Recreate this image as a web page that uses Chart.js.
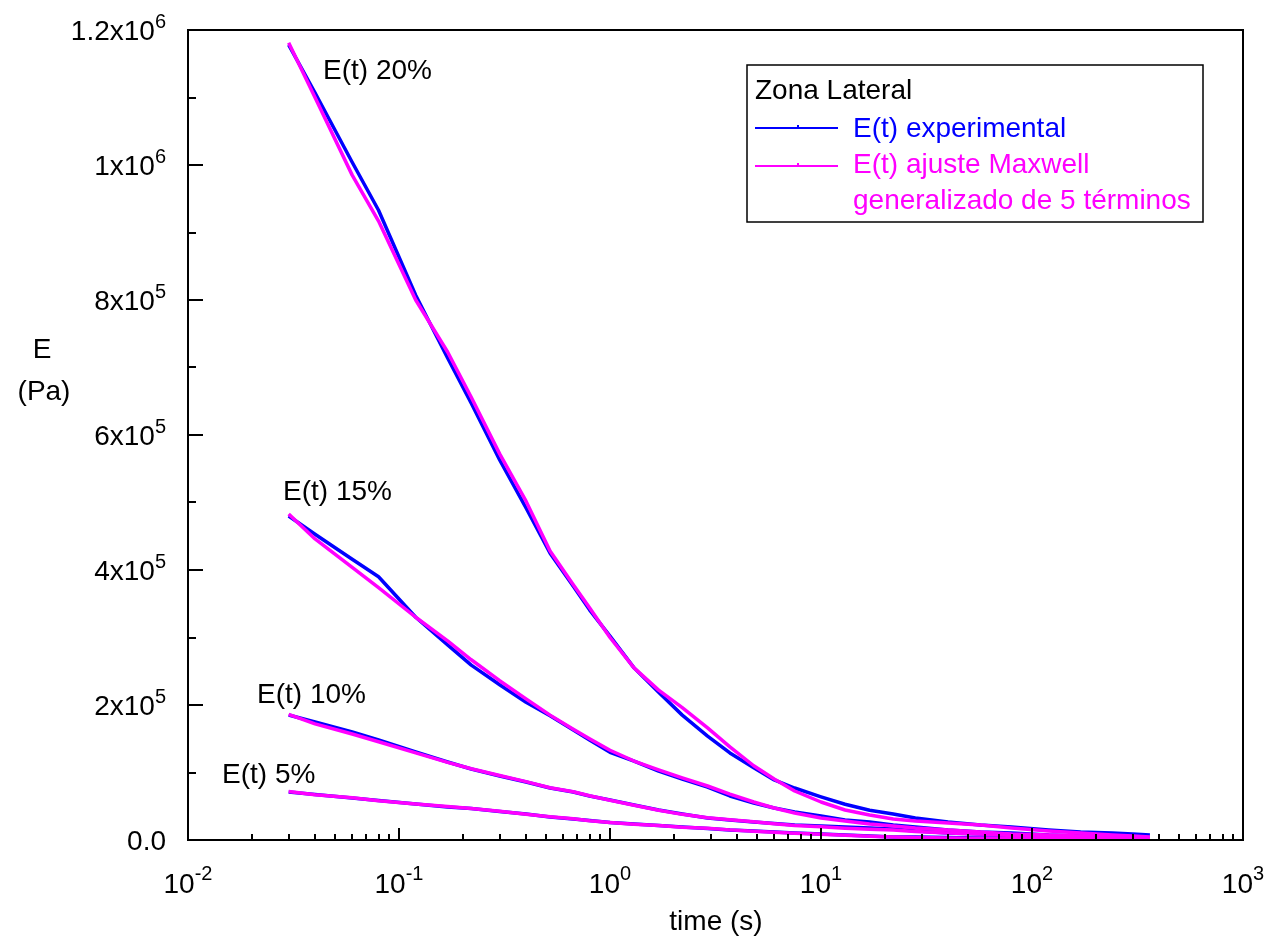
<!DOCTYPE html>
<html>
<head>
<meta charset="utf-8">
<script src="https://cdn.jsdelivr.net/npm/chart.js@4.4.1/dist/chart.umd.min.js"></script>
<style>
	body { margin: 0; background: #fff; }
	canvas { display: block; }
</style>
</head>
<body>
<canvas id="chart" width="1267" height="939"></canvas>
<script>
// time (s), shared by every curve
var times = [0.03, 0.04, 0.06, 0.08, 0.12, 0.17, 0.22, 0.3, 0.4, 0.52, 0.67, 0.8, 1.0, 1.3, 1.7, 2.2, 2.9, 3.7, 4.8, 6.0, 7.5, 10, 13, 17, 22, 28, 40, 57, 80, 120, 170, 240, 300, 362];

// E (Pa) experimental and Maxwell fit, per strain level
var exp20 = [1178000, 1107000, 1004000, 933000, 807000, 714000, 647000, 563000, 492000, 425000, 376000, 341000, 302000, 255000, 219000, 185000, 154000, 129000, 107000, 89000, 77000, 64000, 53000, 44000, 38500, 32600, 26700, 22200, 19300, 14800, 11900, 10400, 8900, 7400];
var fit20 = [1181000, 1100000, 985000, 917000, 800000, 723000, 656000, 572000, 502000, 428000, 378000, 344000, 300000, 255000, 222000, 196000, 166000, 138000, 110000, 90400, 72600, 56300, 44400, 37000, 31100, 28100, 25200, 22200, 17800, 13300, 10400, 7400, 5900, 4400];
var exp15 = [480000, 453000, 416000, 390000, 330000, 289000, 259000, 230000, 204000, 184000, 163000, 148000, 130000, 117000, 102000, 90400, 78500, 65200, 54800, 47400, 41500, 35600, 29600, 26700, 22200, 19300, 14800, 11900, 10400, 7400, 5900, 4400, 4400, 3000];
var fit15 = [483000, 446000, 404000, 374000, 330000, 295000, 267000, 236000, 209000, 185000, 164000, 150000, 133000, 117000, 104000, 92000, 80000, 68000, 56300, 47400, 40000, 32600, 28100, 23700, 20700, 17800, 14800, 11900, 8900, 7400, 5900, 4400, 3000, 3000];
var exp10 = [185200, 174800, 160000, 148200, 130400, 115600, 105200, 94800, 85900, 77000, 71100, 65200, 59300, 51900, 44400, 38500, 32600, 29600, 26700, 24400, 22200, 20700, 19300, 17800, 16300, 13300, 10400, 8900, 7400, 5900, 4400, 4400, 3000, 3000];
var fit10 = [186000, 172000, 157000, 145500, 129000, 115000, 105500, 95500, 86500, 77500, 71500, 65500, 59000, 51500, 44000, 38000, 33000, 30000, 27000, 24000, 21500, 19500, 17500, 16000, 14800, 12500, 10400, 8900, 6600, 5200, 4400, 3700, 3000, 3000];
var exp5 = [71100, 67400, 62200, 58500, 53300, 48900, 46700, 42200, 38500, 34100, 31100, 28900, 25900, 23700, 21500, 19300, 17000, 14800, 13300, 11900, 10400, 8900, 7400, 5900, 4400, 4400, 3700, 3000, 3000, 2200, 2200, 1500, 1500, 1500];
var fit5 = [72000, 67000, 62500, 58000, 53500, 49500, 46500, 42500, 38000, 34500, 31500, 28500, 26000, 23500, 21500, 19000, 17500, 15000, 13000, 11500, 10000, 8500, 7000, 5500, 4500, 3700, 3000, 2600, 2200, 2200, 1800, 1500, 1500, 1500];

// tick labels
var xTickValues = [0.01, 0.1, 1, 10, 100, 1000];
var xTickExps = ['-2', '-1', '0', '1', '2', '3'];
var yTickValues = [0, 200000, 400000, 600000, 800000, 1000000, 1200000];
var yTickBases = ['0.0', '2x10', '4x10', '6x10', '8x10', '1x10', '1.2x10'];
var yTickExps = ['', '5', '5', '5', '5', '6', '6'];

var curveLabels = ['E(t) 20%', 'E(t) 15%', 'E(t) 10%', 'E(t) 5%'];
var legendTitle = 'Zona Lateral';
var legendItems = ['E(t) experimental', 'E(t) ajuste Maxwell', 'generalizado de 5 términos'];

var BLUE = '#0000ff', MAGENTA = '#ff00ff';
var FONT = '28px "Liberation Sans", Arial, sans-serif';
var SUP = '20px "Liberation Sans", Arial, sans-serif';

function pts(vals) {
	var out = [];
	for (var i = 0; i < times.length; i++) out.push({x: times[i], y: vals[i]});
	return out;
}

function line(vals, color, order) {
	return {data: pts(vals), borderColor: color, borderWidth: 3.5, pointRadius: 0, fill: false, order: order};
}

// base text + superscript; align 'right' or 'center' on x
function sci(ctx, base, sup, x, y, align, supDy) {
	ctx.font = FONT;
	var wb = ctx.measureText(base).width;
	ctx.font = SUP;
	var ws = sup ? ctx.measureText(sup).width : 0;
	var x0 = align == 'right' ? x - wb - ws : x - (wb + ws) / 2;
	ctx.font = FONT;
	ctx.fillText(base, x0, y);
	if (sup) {
		ctx.font = SUP;
		ctx.fillText(sup, x0 + wb, y + supDy);
	}
}

var axisPlugin = {
	id: 'axisBox',
	afterDraw: function(chart) {
		var ctx = chart.ctx, a = chart.chartArea;
		var xs = chart.scales.x, ys = chart.scales.y;
		var i, d, m, px, py;
		ctx.save();
		ctx.strokeStyle = '#000';
		ctx.fillStyle = '#000';
		ctx.lineWidth = 2;
		ctx.strokeRect(a.left, a.top, a.right - a.left, a.bottom - a.top);

		// y ticks, inward
		ctx.beginPath();
		for (i = 0; i <= 12; i++) {
			py = Math.round(ys.getPixelForValue(i * 100000));
			ctx.moveTo(a.left, py);
			ctx.lineTo(a.left + (i % 2 == 0 ? 15 : 8), py);
		}
		// x ticks, inward
		for (d = -2; d <= 2; d++) {
			for (m = 1; m <= 9; m++) {
				px = Math.round(xs.getPixelForValue(m * Math.pow(10, d)));
				ctx.moveTo(px, a.bottom);
				ctx.lineTo(px, a.bottom - (m == 1 ? 12 : 6));
			}
		}
		ctx.stroke();

		ctx.textBaseline = 'alphabetic';
		for (i = 0; i < yTickValues.length; i++) {
			py = ys.getPixelForValue(yTickValues[i]);
			sci(ctx, yTickBases[i], yTickExps[i], 166, py + 10, 'right', -12);
		}
		for (i = 0; i < xTickValues.length; i++) {
			px = xs.getPixelForValue(xTickValues[i]);
			sci(ctx, '10', xTickExps[i], px, 893, 'center', -13);
		}

		// axis titles
		ctx.font = FONT;
		ctx.textAlign = 'center';
		ctx.fillText('E', 42, 358);
		ctx.fillText('(Pa)', 44, 400);
		ctx.fillText('time (s)', 716, 930);
		ctx.textAlign = 'left';

		// curve labels
		ctx.fillText(curveLabels[0], 323, 79);
		ctx.fillText(curveLabels[1], 283, 500);
		ctx.fillText(curveLabels[2], 257, 703);
		ctx.fillText(curveLabels[3], 222, 783);

		// legend box
		ctx.lineWidth = 1.5;
		ctx.strokeRect(747, 65, 456, 157);
		ctx.fillText(legendTitle, 755, 99);
		ctx.lineWidth = 2;
		ctx.strokeStyle = BLUE;
		ctx.beginPath(); ctx.moveTo(755, 128); ctx.lineTo(838, 128); ctx.moveTo(798, 128); ctx.lineTo(798, 125); ctx.stroke();
		ctx.strokeStyle = MAGENTA;
		ctx.beginPath(); ctx.moveTo(755, 166); ctx.lineTo(838, 166); ctx.moveTo(798, 166); ctx.lineTo(798, 163); ctx.stroke();
		ctx.fillStyle = BLUE;
		ctx.fillText(legendItems[0], 853, 137);
		ctx.fillStyle = MAGENTA;
		ctx.fillText(legendItems[1], 853, 173);
		ctx.fillText(legendItems[2], 853, 209);
		ctx.restore();
	}
};

new Chart(document.getElementById('chart'), {
	type: 'line',
	data: {
		datasets: [
			line(exp20, BLUE, 1), line(fit20, MAGENTA, 0),
			line(exp15, BLUE, 1), line(fit15, MAGENTA, 0),
			line(exp10, BLUE, 1), line(fit10, MAGENTA, 0),
			line(exp5, BLUE, 1), line(fit5, MAGENTA, 0)
		]
	},
	options: {
		responsive: false,
		animation: false,
		devicePixelRatio: 1,
		layout: {padding: {left: 188, right: 24, top: 30, bottom: 99}},
		scales: {
			x: {type: 'logarithmic', min: 0.01, max: 1000, display: false},
			y: {type: 'linear', min: 0, max: 1200000, display: false}
		},
		elements: {line: {tension: 0, borderJoinStyle: 'round'}},
		plugins: {legend: {display: false}, tooltip: {enabled: false}}
	},
	plugins: [axisPlugin]
});
</script>
</body>
</html>
